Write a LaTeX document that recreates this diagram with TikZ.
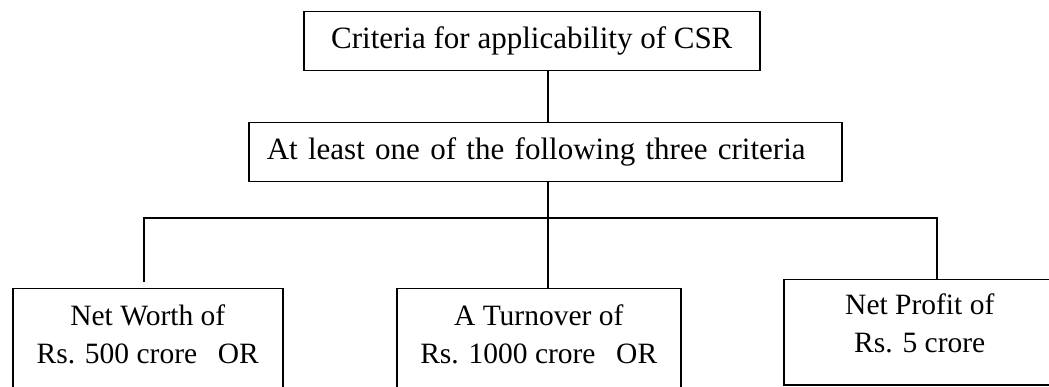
\documentclass[tikz,border=0pt]{standalone}
\usepackage{fontspec}
\setmainfont{Liberation Serif}
% two stacked lines, moved up without changing the box size the node sees
\newcommand{\twolines}[3]{\raisebox{#1}[\height][\depth]{\begin{tabular}{@{}c@{}}#2\\#3\end{tabular}}}
\begin{document}
\begin{tikzpicture}[x=1pt,y=-1pt,
  box/.style={draw=black, line width=1.5pt, inner sep=0pt, anchor=north west, align=center},
  wire/.style={draw=black, line width=1.5pt},
  big/.style={font=\fontsize{31}{38}\selectfont},
  small/.style={font=\fontsize{29.5}{38}\selectfont}]
\useasboundingbox (0,0) rectangle (1049,387);
\fill[white] (0,0) rectangle (1049,387);
\clip (0,0) rectangle (1049,387);

% heading boxes
\node[box, big, minimum width=456pt, minimum height=59pt] (head) at (303,11)
  {Criteria for applicability of CSR};
\node[box, big, minimum width=593pt, minimum height=59pt, text width=593pt, align=left] (rule) at (248,122)
  {\hspace*{18pt}At least one of the following three criteria};

% the three criteria (the lower two boxes run past the bottom edge)
\node[box, small, minimum width=270pt, minimum height=104pt] (worth) at (12,288)
  {\twolines{4pt}{Net Worth of}{Rs. 500 crore\hspace{0.7em}OR}};
\node[box, small, minimum width=284pt, minimum height=104pt] (turn) at (396,288)
  {\twolines{4pt}{A Turnover of}{Rs. 1000 crore\hspace{0.7em}OR}};
\node[box, small, minimum width=272pt, minimum height=105pt] (profit) at (783,279)
  {\twolines{6pt}{Net Profit of}{Rs. 5 crore}};

% connectors
\coordinate (trunk) at (548,218);
\coordinate (lfoot) at (144,282);
\coordinate (rdrop) at (937,218);
\draw[wire] (trunk |- head.south) -- (trunk |- rule.north);
\draw[wire] (trunk |- rule.south) -- (trunk |- turn.north);
\draw[wire] (lfoot) -- (lfoot |- trunk) -- (rdrop) -- (rdrop |- profit.north);
\end{tikzpicture}
\end{document}
